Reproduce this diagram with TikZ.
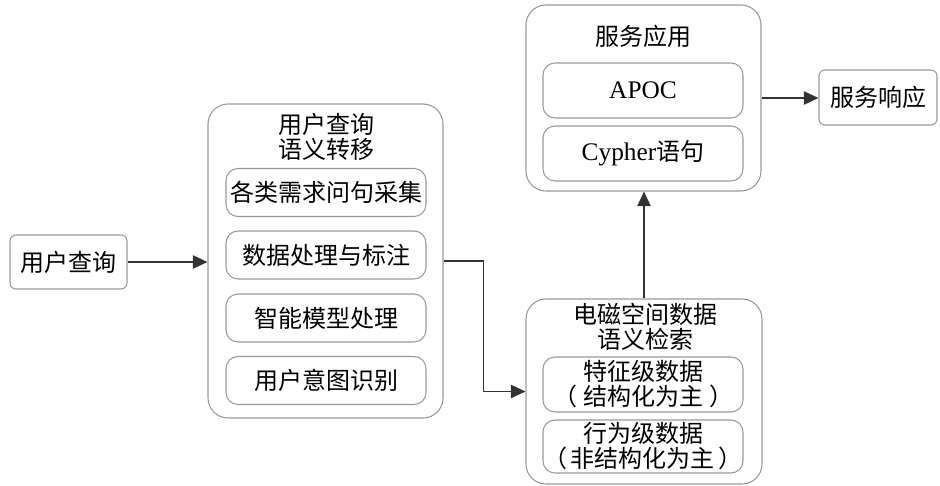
\documentclass[tikz,border=0pt]{standalone}
\usepackage{fontspec}
\setmainfont{Liberation Serif}
\newfontfamily\cjk{Noto Sans CJK SC}
\usetikzlibrary{arrows.meta}
\tikzstyle{outer}=[draw=black!40,line width=0.8pt,rounded corners=15pt,inner sep=0pt]
\tikzstyle{inner}=[draw=black!40,line width=0.8pt,rounded corners=9pt,inner sep=0pt,minimum width=150pt,align=center,font=\cjk\fontsize{18}{18.75}\selectfont]
\tikzstyle{title}=[inner sep=0pt,align=center,font=\cjk\fontsize{18}{18.75}\selectfont]
\tikzstyle{arr}=[draw=black!80,line width=1.2pt,-{Triangle[length=11pt,width=10pt]}]

\begin{document}
\begin{tikzpicture}[x=0.75pt,y=-0.75pt]
    \useasboundingbox (0,0) rectangle (940,486);
    % input
    \node[inner,rounded corners=4.5pt,minimum width=87.75pt,minimum height=40.5pt] (query) at (68.5,262) {用户查询};
    % left group
    \node[outer,minimum width=176.25pt,minimum height=235.5pt] (sem) at (325.5,261) {};
    \node[title] (semT) at (326,137) {用户查询\\语义转移};
    \node[inner,minimum height=36pt] (collect) at (326,192.5) {各类需求问句采集};
    \node[inner,minimum height=36pt] (label) at (326,255) {数据处理与标注};
    \node[inner,minimum height=36pt] (model) at (326,318) {智能模型处理};
    \node[inner,minimum height=36pt] (intent) at (326,380.5) {用户意图识别};
    % retrieval group
    \node[outer,minimum width=177pt,minimum height=138.75pt] (ret) at (644,391.5) {};
    \node[title] (retT) at (645,327) {电磁空间数据\\语义检索};
    \node[inner,minimum height=41.25pt] (feat) at (643,384.5) {特征级数据\\（\hspace{0.25em}结构化为主\hspace{0.25em}）};
    \node[inner,minimum height=39.75pt] (behav) at (643,446.5) {行为级数据\\（\hspace{0.15em}非结构化为主\hspace{0.15em}）};
    % service group
    \node[outer,minimum width=176.25pt,minimum height=139.5pt] (app) at (643.5,98) {};
    \node[title] (appT) at (643,36) {服务应用};
    \node[inner,minimum height=41.25pt,font=\fontsize{19}{21}\selectfont] (apoc) at (643,90.5) {APOC};
    \node[inner,minimum height=41.25pt,font=\fontsize{19}{21}\selectfont] (cypher) at (643,153.5) {Cypher{\cjk\fontsize{18}{18.75}\selectfont 语句}};
    % output
    \node[inner,rounded corners=4.5pt,minimum width=88.5pt,minimum height=41.25pt] (resp) at (878,97.5) {服务响应};
    % connectors
    \draw[arr] (query.east) -- (query.east -| sem.west);
    \draw[arr] (sem.east) -- ++(40,0) |- (ret.west);
    \draw[arr] (ret.north) -- (ret.north |- app.south);
    \draw[arr] (app.east) -- (app.east -| resp.west);
\end{tikzpicture}
\end{document}
